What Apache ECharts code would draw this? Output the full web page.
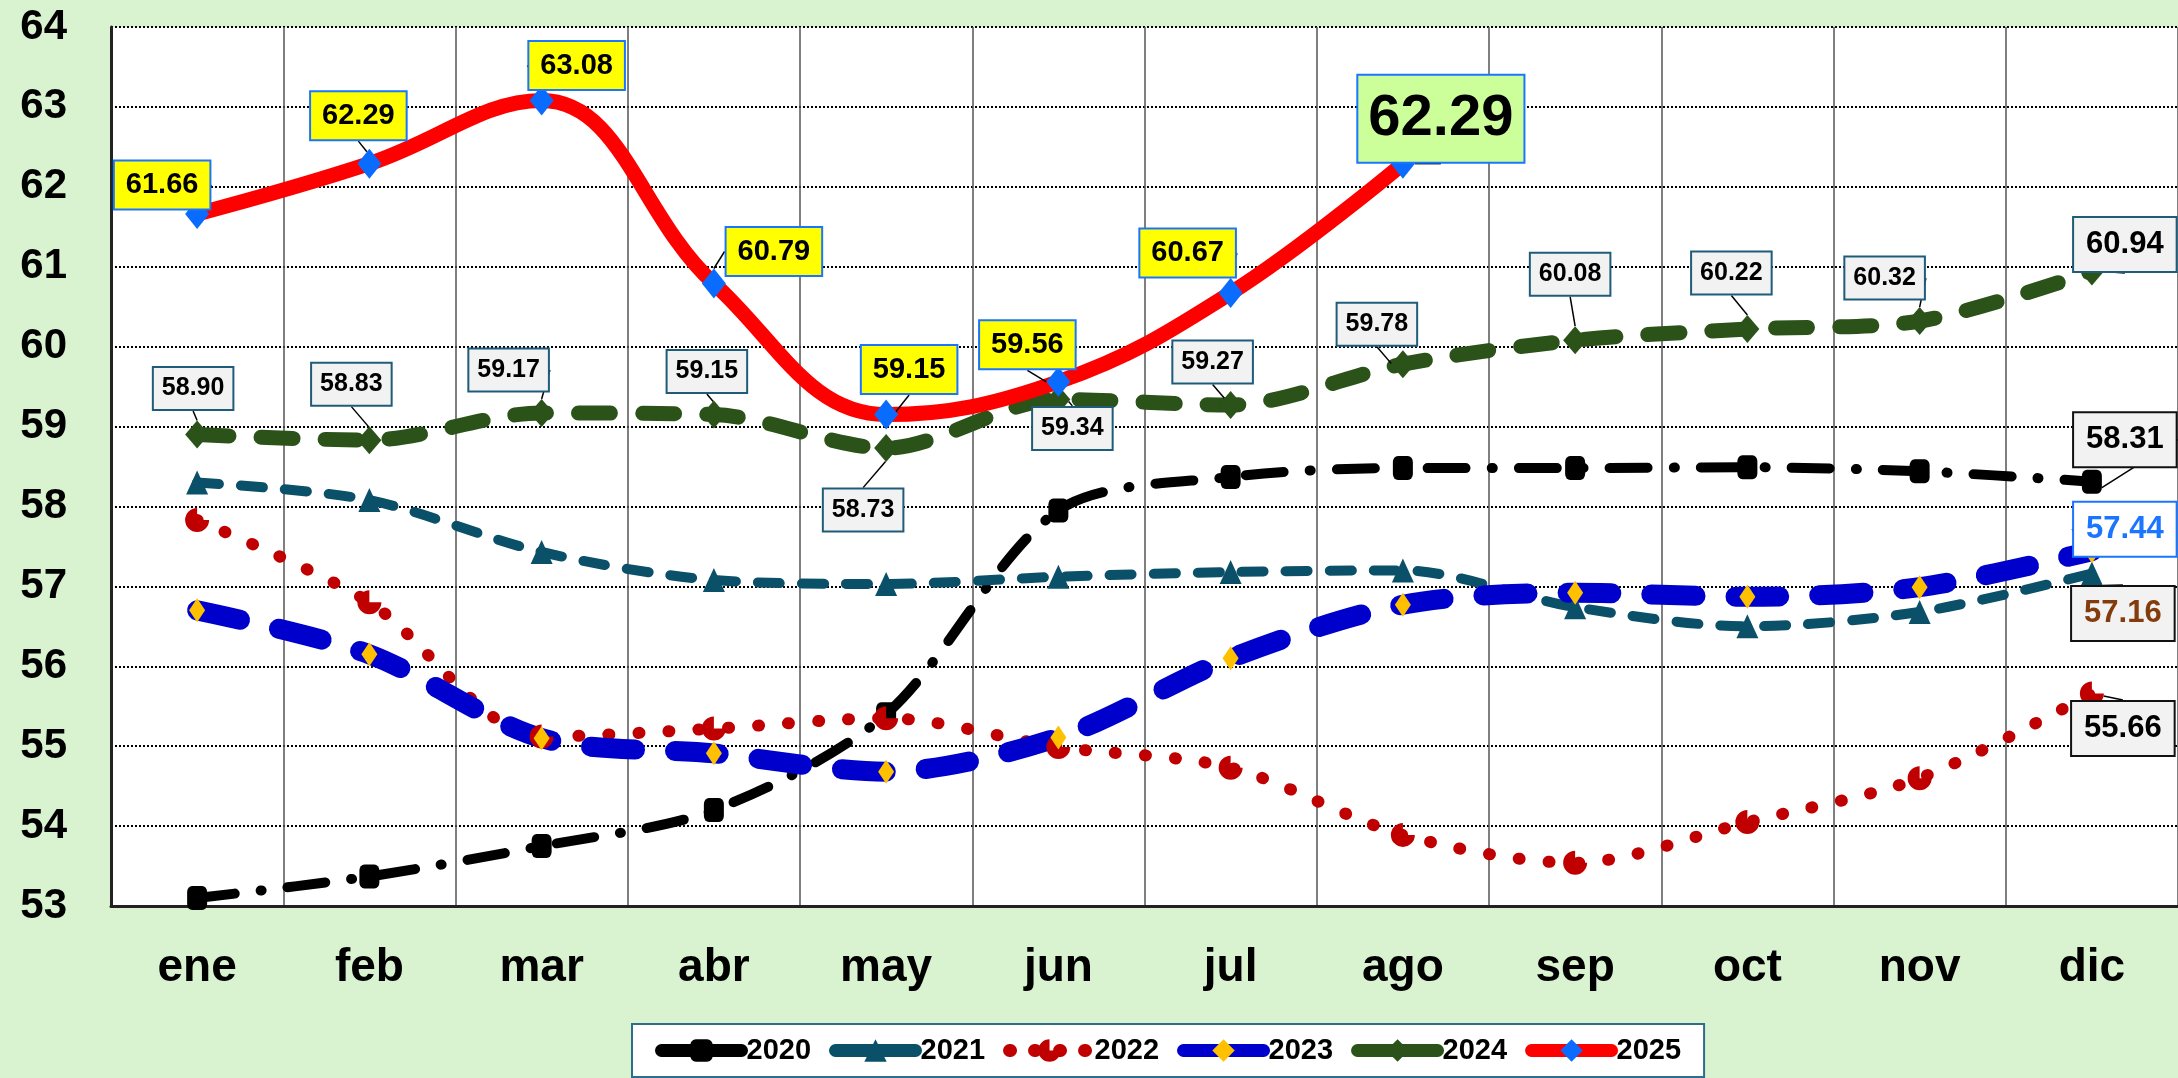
<!DOCTYPE html>
<html>
<head>
<meta charset="utf-8">
<title>chart</title>
<script src="https://cdn.jsdelivr.net/npm/echarts@6/dist/echarts.min.js"></script>
<style>
  html, body { margin: 0; padding: 0; background: #d9f2d0; }
  #main { width: 2178px; height: 1078px; }
</style>
</head>
<body>
<div id="main"></div>
<script>
// datos
const months = ['ene', 'feb', 'mar', 'abr', 'may', 'jun', 'jul', 'ago', 'sep', 'oct', 'nov', 'dic'];
const years = ['2020', '2021', '2022', '2023', '2024', '2025'];

const v2020 = [53.10, 53.37, 53.75, 54.20, 55.40, 57.95, 58.37, 58.48, 58.48, 58.49, 58.44, 58.31];
const v2021 = [58.30, 58.08, 57.43, 57.08, 57.03, 57.12, 57.18, 57.20, 56.74, 56.50, 56.68, 57.16];
const v2022 = [57.83, 56.80, 55.12, 55.22, 55.35, 54.99, 54.73, 53.89, 53.54, 54.05, 54.60, 55.66];
const v2023 = [56.70, 56.15, 55.10, 54.91, 54.68, 55.11, 56.10, 56.77, 56.92, 56.87, 56.99, 57.44];
const v2024 = [58.90, 58.83, 59.17, 59.15, 58.73, 59.34, 59.27, 59.78, 60.08, 60.22, 60.32, 60.94];
const v2025 = [61.66, 62.29, 63.08, 60.79, 59.15, 59.56, 60.67, 62.29];

const yTicks = { min: 53, max: 64, step: 1 };

// desplazamiento de etiquetas (centro respecto al punto)
const labelOffsets = [
  { 11: [33, -42] },
  { 11: [31, 40] },
  { 11: [31, 35] },
  { 11: [33, -22] },
  { 0: [-4, -46], 1: [-18, -56], 2: [-33, -43], 3: [-7, -43], 4: [-23, 62], 5: [14, 29],
    6: [-18, -43], 7: [-26, -40], 8: [-5, -66], 9: [-16, -56], 10: [-35, -43], 11: [33, -27] },
  { 0: [-35, -29], 1: [-11, -48], 2: [35, -35], 3: [60, -32], 4: [23, -45], 5: [-31, -37],
    6: [-43, -40], 7: [38, -45] }
];

const FONT = '"Liberation Sans", Arial, sans-serif';
const fmt = p => Number(p.value).toFixed(2);

function box(opts) {
  return Object.assign({
    show: true,
    position: 'inside',
    formatter: fmt,
    fontFamily: FONT,
    fontWeight: 'bold',
    color: '#000',
    backgroundColor: '#f2f2f2',
    borderColor: '#1f5c7a',
    borderWidth: 2,
    fontSize: 25,
    padding: [8, 8]
  }, opts);
}

const lastLabel = [
  box({ fontSize: 31, padding: [11, 12], borderColor: '#111' }),
  box({ fontSize: 31, padding: [11, 12], borderColor: '#111', color: '#843c0c' }),
  box({ fontSize: 31, padding: [11, 12], borderColor: '#111' }),
  box({ fontSize: 31, padding: [11, 12], borderColor: '#1a75ff', color: '#1a75ff', backgroundColor: '#fff' })
];
const lbl2024 = box({});
const lbl2024last = box({ fontSize: 31, padding: [11, 12] });
const lbl2025 = box({ fontSize: 29, padding: [9, 11], backgroundColor: '#ffff00', borderColor: '#1a75ff' });
const lbl2025last = box({ fontSize: 58, padding: [14, 10], backgroundColor: '#ccff99', borderColor: '#1a75ff' });

function build(vals, labelFor) {
  return vals.map((v, i) => {
    const l = labelFor(i);
    return l ? { value: v, label: l } : v;
  });
}

const series = [
  {
    name: '2020', data: build(v2020, i => i === 11 ? lastLabel[0] : null),
    color: '#000', symbol: 'roundRect', symbolSize: [20, 24],
    lineStyle: { color: '#000', width: 10, type: [38, 26, 1, 26], cap: 'round' },
    itemStyle: { color: '#000' }, smooth: 0.3
  },
  {
    name: '2021', data: build(v2021, i => i === 11 ? lastLabel[1] : null),
    color: '#0a5069', symbol: 'triangle', symbolSize: [22, 24],
    lineStyle: { color: '#0a5069', width: 10, type: [22, 22], cap: 'round' },
    itemStyle: { color: '#0a5069' }, smooth: 0.3
  },
  {
    name: '2022', data: build(v2022, i => i === 11 ? lastLabel[2] : null),
    color: '#c00000', symbol: 'path://M12,12 L24,12 A12,12 0 1,1 12,0 Z', symbolSize: 24,
    lineStyle: { color: '#c00000', width: 12, type: [1, 29], cap: 'round' },
    itemStyle: { color: '#c00000' }, smooth: 0.3
  },
  {
    name: '2023', data: build(v2023, i => i === 11 ? lastLabel[3] : null),
    color: '#0000cc', symbol: 'diamond', symbolSize: [16, 24],
    lineStyle: { color: '#0000cc', width: 20, type: [44, 40], cap: 'round' },
    itemStyle: { color: '#ffc000' }, smooth: 0.3
  },
  {
    name: '2024', data: build(v2024, i => i === 11 ? lbl2024last : lbl2024),
    color: '#2b5219', symbol: 'diamond', symbolSize: [24, 28],
    lineStyle: { color: '#2b5219', width: 15, type: [32, 32], cap: 'round' },
    itemStyle: { color: '#2b5219' }, smooth: 0.3
  },
  {
    name: '2025', data: build(v2025, i => i === 7 ? lbl2025last : lbl2025),
    color: '#ff0000', symbol: 'diamond', symbolSize: [24, 30],
    lineStyle: { color: '#ff0000', width: 15 },
    itemStyle: { color: '#0a6cff' }, smooth: 0.4
  }
].map(s => Object.assign({
  type: 'line',
  showSymbol: true,
  label: { show: false },
  labelLine: { show: true, lineStyle: { color: '#000', width: 1.5 } },
  labelLayout: function (params) {
    const o = labelOffsets[params.seriesIndex][params.dataIndex];
    return o ? { dx: o[0], dy: o[1] } : {};
  },
  emphasis: { disabled: true }
}, s));

// iconos de la leyenda: línea gruesa con el marcador en medio
const legendData = series.map(s => ({
  name: s.name,
  lineStyle: {
    color: s.lineStyle.color,
    width: 13,
    type: s.name === '2022' ? [1, 24] : 'solid',
    cap: 'round'
  },
  itemStyle: s.itemStyle
}));

const chart = echarts.init(document.getElementById('main'));
chart.setOption({
  backgroundColor: '#d9f2d0',
  animation: false,
  textStyle: { fontFamily: FONT },
  grid: {
    left: 111, right: 0, top: 27, bottom: 172,
    show: true, backgroundColor: '#ffffff', borderWidth: 0
  },
  legend: {
    data: legendData,
    left: 632, top: 1024,
    backgroundColor: '#ffffff',
    borderColor: '#2e6d8e', borderWidth: 2,
    padding: [12, 23],
    itemWidth: 80, itemHeight: 28, itemGap: 18,
    textStyle: { fontSize: 29, fontWeight: 'bold', color: '#000', fontFamily: FONT }
  },
  xAxis: {
    type: 'category',
    data: months,
    boundaryGap: true,
    axisLine: { lineStyle: { color: '#222', width: 3 } },
    axisTick: { show: false },
    splitLine: { show: true, interval: 0, lineStyle: { color: '#555', width: 1.5 } },
    axisLabel: { fontSize: 46, fontWeight: 'bold', color: '#000', margin: 39, fontFamily: FONT, interval: 0 }
  },
  yAxis: {
    type: 'value',
    min: yTicks.min, max: yTicks.max, interval: yTicks.step,
    axisLine: { show: true, lineStyle: { color: '#222', width: 3 } },
    axisTick: { show: false },
    splitLine: { show: true, lineStyle: { color: '#000', width: 2, type: [2, 2] } },
    axisLabel: { fontSize: 42, fontWeight: 'bold', color: '#000', margin: 44, fontFamily: FONT }
  },
  series: series
});
</script>
</body>
</html>
